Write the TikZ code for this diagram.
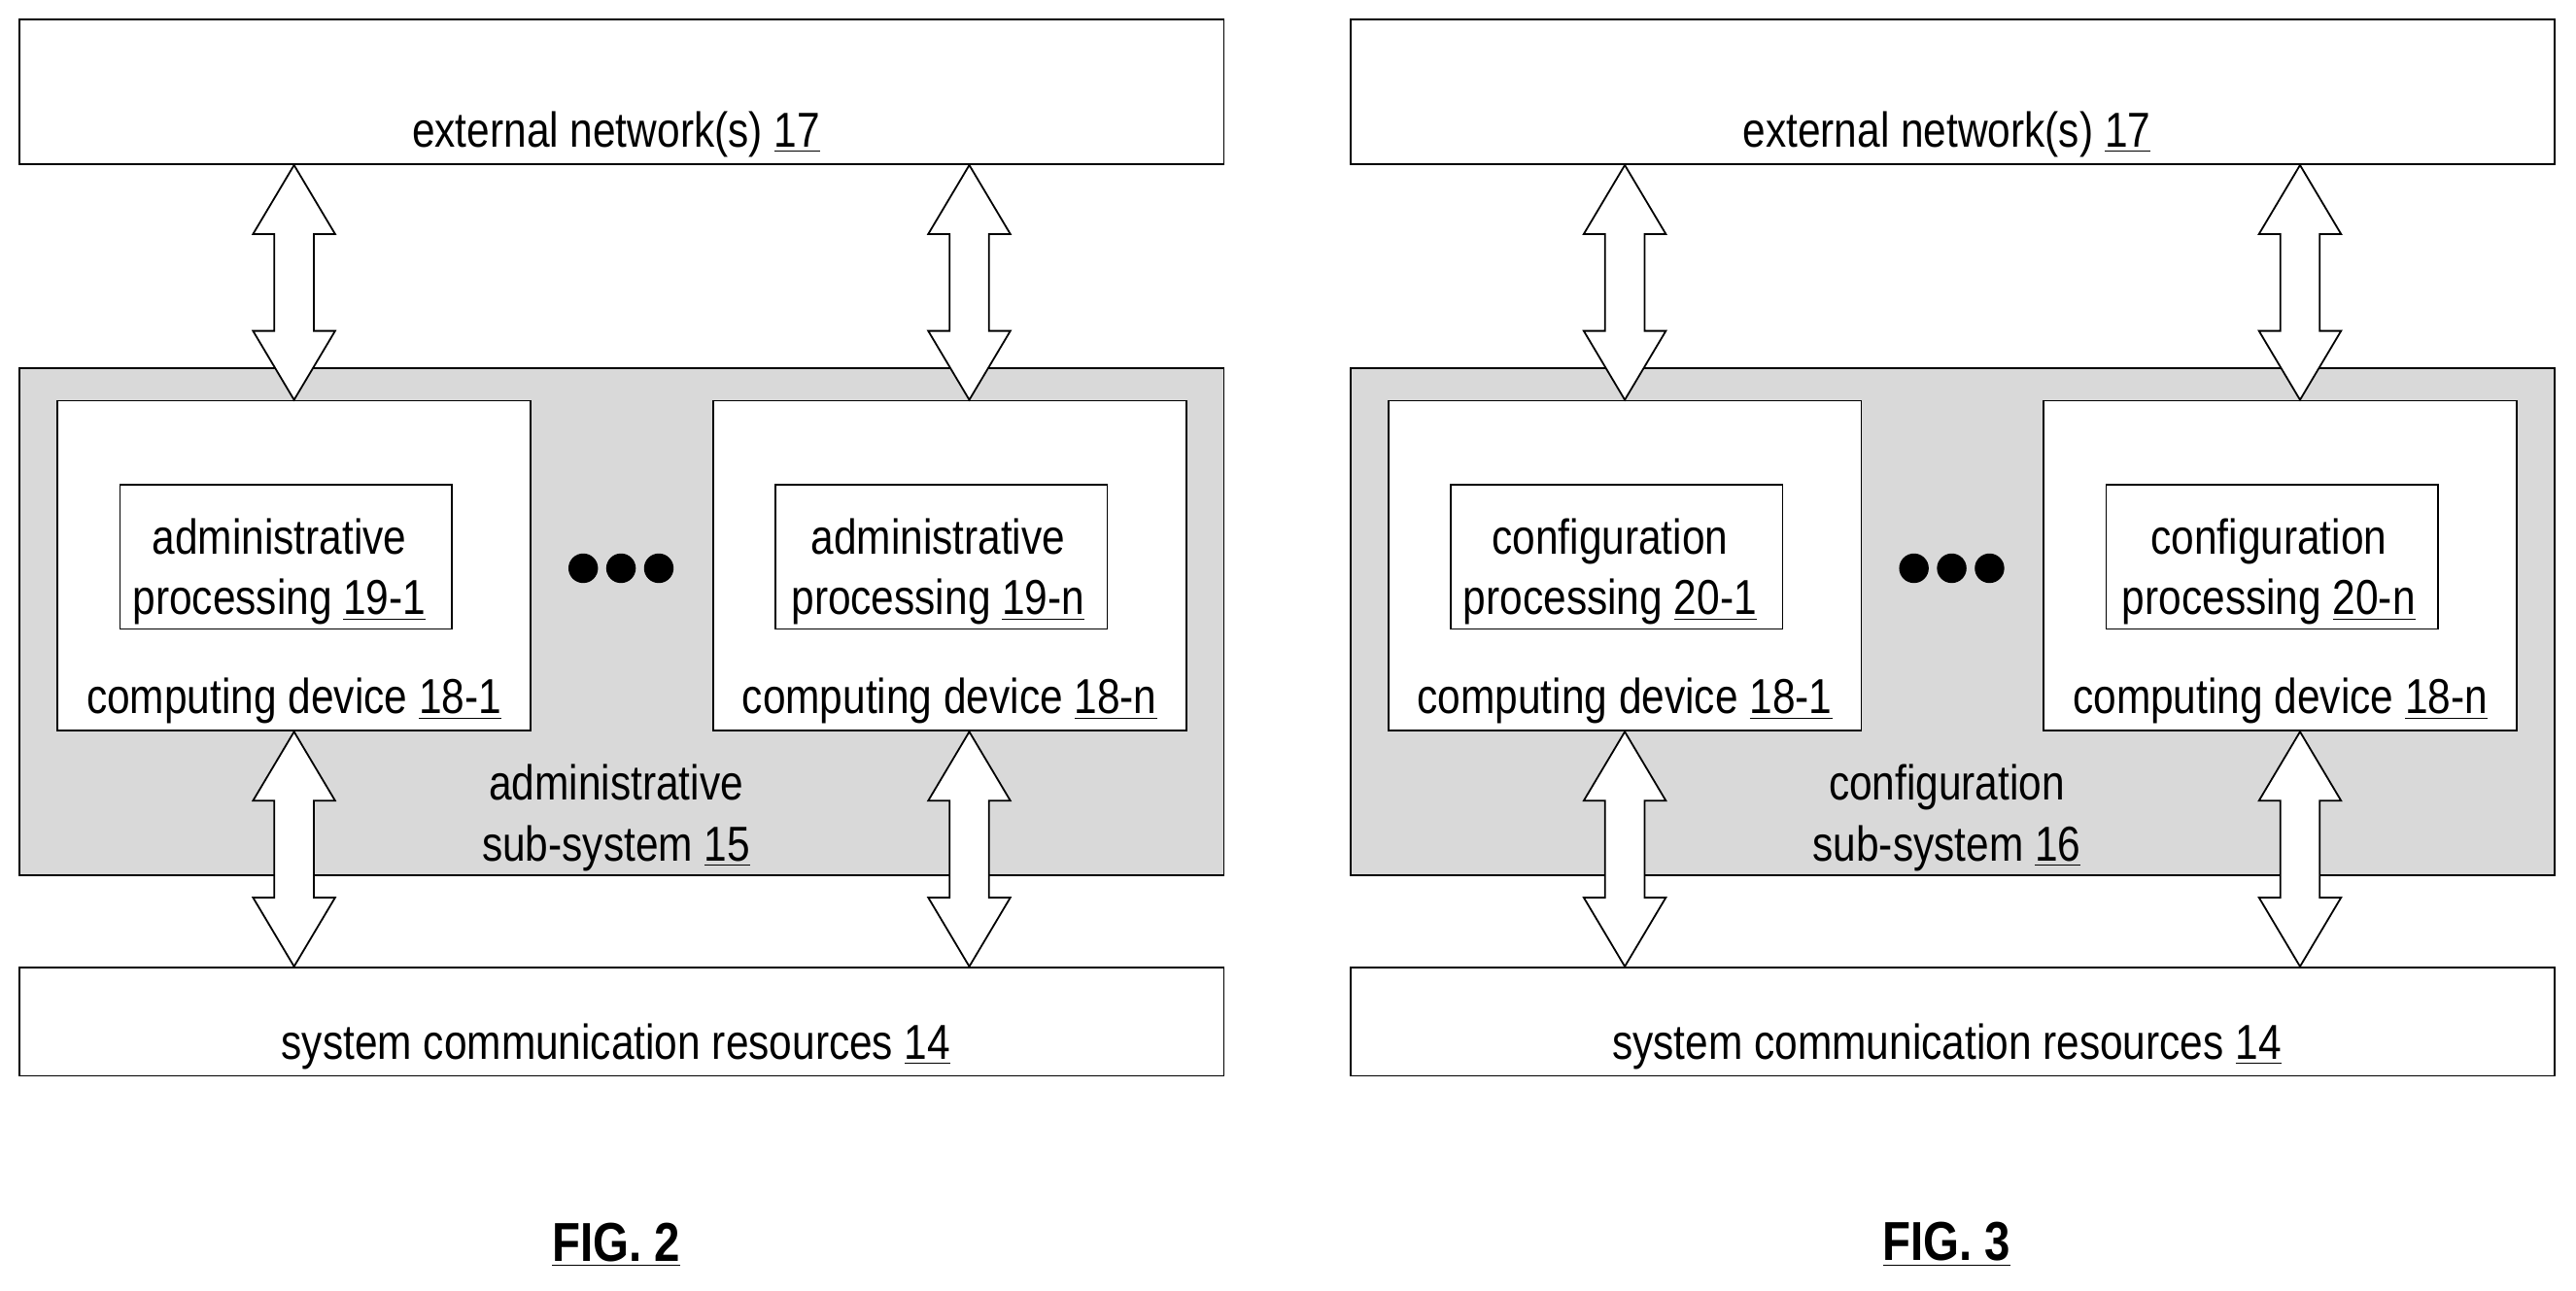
\documentclass[tikz,border=0pt]{standalone}
\usepackage{fontspec}
\setmainfont[FakeStretch=0.84]{Liberation Sans}
\usetikzlibrary{calc}
\tikzset{
    box/.style={
           rectangle,
           draw=black, line width=0.6pt,
           fill=white,
           inner sep=0pt,
           },
    txt/.style={
           inner sep=0pt,
           align=center,
           font=\fontsize{17}{21}\selectfont,
           },
    arr/.style={
           draw=black, line width=0.6pt,
           fill=white,
           },
    dot/.style={
           circle,
           fill=black,
           inner sep=0pt,
           minimum size=3.6mm,
           }
}
\newcommand\dblarr[2]{%
  \draw[arr] let \p1=#1, \p2=#2 in
    (\x1,\y1) -- ({\x1+5mm},{\y1-8.4mm}) -- ({\x1+2.4mm},{\y1-8.4mm})
    -- ({\x1+2.4mm},{\y2+8.4mm}) -- ({\x1+5mm},{\y2+8.4mm}) -- (\x1,\y2)
    -- ({\x1-5mm},{\y2+8.4mm}) -- ({\x1-2.4mm},{\y2+8.4mm})
    -- ({\x1-2.4mm},{\y1-8.4mm}) -- ({\x1-5mm},{\y1-8.4mm}) -- cycle;}
\begin{document}
\begin{tikzpicture}[x=0.2mm,y=-0.2mm]
\useasboundingbox (0,0) rectangle (1568,786);
\foreach \ox/\lab/\num/\sub/\fig in {0/administrative/19/15/2, 810/configuration/20/16/3}{
\begin{scope}[xshift=\ox*0.2mm]
% outer boxes
\node[box, minimum width=146.6mm, minimum height=17.6mm] (ext) at (378.5,56) {};
\node[box, fill=gray!30, minimum width=146.6mm, minimum height=61.8mm] (sub) at (378.5,378.5) {};
\node[box, minimum width=146.6mm, minimum height=13.2mm] (sys) at (378.5,622) {};
\node[txt] at (375,82) {external network(s) \underline{17}};
\node[txt] at (375,637) {system communication resources \underline{14}};
% computing devices
\node[box, minimum width=57.6mm, minimum height=40.2mm] (dev1) at (179,344.5) {};
\node[box, minimum width=57.6mm, minimum height=40.2mm] (devn) at (578,344.5) {};
\node[box, minimum width=40.4mm, minimum height=17.6mm] (proc1) at (174,339) {};
\node[box, minimum width=40.4mm, minimum height=17.6mm] (procn) at (573,339) {};
\node[txt] at (170,348) {\lab\\processing \underline{\num-1}};
\node[txt] at (571,348) {\lab\\processing \underline{\num-n}};
\node[txt] at (179,427) {computing device \underline{18-1}};
\node[txt] at (578,427) {computing device \underline{18-n}};
\node[txt] at (375,498) {\lab\\sub-system \underline{\sub}};
% dots
\node[dot] (d1) at (355,346) {};
\node[dot] (d2) at (378,346) {};
\node[dot] (d3) at (401,346) {};
% arrows
\dblarr{(ext.south -| dev1.north)}{(dev1.north)}
\dblarr{($(ext.south -| devn.north)+(12,0)$)}{($(devn.north)+(12,0)$)}
\dblarr{(dev1.south)}{(sys.north -| dev1.south)}
\dblarr{($(devn.south)+(12,0)$)}{($(sys.north -| devn.south)+(12,0)$)}
\node[font=\fontsize{19}{23}\selectfont\bfseries] (fig) at (375,758) {\underline{FIG. \fig}};
\end{scope}
}
\end{tikzpicture}
\end{document}
